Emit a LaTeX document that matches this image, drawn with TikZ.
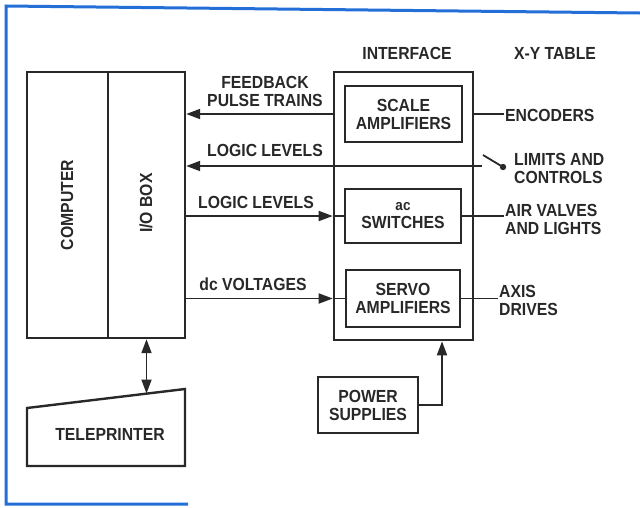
\documentclass[tikz,border=0pt]{standalone}
\usepackage{fontspec}
\setmainfont{Liberation Sans}[FakeStretch=0.9]
\usetikzlibrary{arrows.meta,calc}
\definecolor{frameblue}{RGB}{35,110,215}
\definecolor{ink}{RGB}{40,40,40}
\begin{document}
\begin{tikzpicture}[x=1pt,y=-1pt,
  every node/.style={font=\fontsize{17.5}{18}\selectfont\bfseries, text=ink},
  blk/.style={draw=ink, line width=2.4pt, rectangle, inner sep=0pt, align=center},
  lbl/.style={inner sep=1pt, align=center},
  lbll/.style={inner sep=1pt, align=left, anchor=west},
  conn/.style={draw=ink, line width=1.8pt},
  arr/.style={conn, -{Triangle[length=14pt,width=10pt]}},
  darr/.style={conn, {Triangle[length=14pt,width=10pt]}-{Triangle[length=14pt,width=10pt]}}]
\useasboundingbox (0,0) rectangle (640,507);
% frame
\draw[frameblue, line width=3pt] (188,504) -- (6,504) -- (6,6) -- (640,13);
% computer and I/O box
\node[blk, minimum width=81pt, minimum height=266pt] (comp) at (67.5,205) {};
\node[rotate=90] (compt) at (67,205) {COMPUTER};
\node[blk, minimum width=77pt, minimum height=266pt] (io) at (146.5,205) {};
\node[rotate=90] (iot) at (146,203) {I/O BOX};
% teleprinter
\draw[ink, line width=2.4pt] (27,408) -- (185,389) -- (185,466) -- (27,466) -- cycle;
\coordinate (ttop) at (146.5,393.5);
\node[lbl] (tele) at (110,434) {TELEPRINTER};
\draw[darr] (io.south) -- (ttop);
% interface
\node[blk, line width=2.6pt, minimum width=139pt, minimum height=268pt] (iface) at (403.5,206) {};
\node[lbl] (ifacet) at (407,53) {INTERFACE};
\node[lbl] (xyt) at (555,53) {X-Y TABLE};
\node[blk, minimum width=117pt, minimum height=56pt] (scale) at (403.5,114) {SCALE\\AMPLIFIERS};
\node[blk, minimum width=116pt, minimum height=54pt] (sw) at (403,216) {{\fontsize{15}{16}\selectfont ac}\\SWITCHES};
\node[blk, minimum width=114pt, minimum height=57pt] (servo) at (403,298.5) {SERVO\\AMPLIFIERS};
\node[blk, minimum width=100pt, minimum height=56pt] (power) at (368,405) {POWER\\SUPPLIES};
% left labels
\node[lbl] (fbt) at (265,91) {FEEDBACK\\PULSE TRAINS};
\node[lbl] (ll1) at (265,150) {LOGIC LEVELS};
\node[lbl] (ll2) at (256,202) {LOGIC LEVELS};
\node[lbl] (dct) at (253,284) {dc VOLTAGES};
% right labels
\node[lbll] (enc) at (504,115) {ENCODERS};
\node[lbll] (lim) at (513,168) {LIMITS AND\\CONTROLS};
\node[lbll] (air) at (504,219) {AIR VALVES\\AND LIGHTS};
\node[lbll] (axis) at (498,300) {AXIS\\DRIVES};
% connectors
\draw[arr] (scale.west -| iface.west) -- (scale.west -| io.east);
\coordinate (swl) at (482,166);
\draw[arr] (swl) -- (swl -| io.east);
\coordinate (swa) at (483,155);
\coordinate (swb) at (503,167);
\draw[conn] (swa) -- (swb);
\fill[ink] (swb) circle (3.2pt);
\draw[arr] (sw.west -| io.east) -- (sw.west -| iface.west);
\draw[conn] (sw.west -| iface.west) -- (sw.west);
\draw[arr] (servo.west -| io.east) -- (servo.west -| iface.west);
\draw[conn] (servo.west -| iface.west) -- (servo.west);
\draw[conn] (scale.east -| iface.east) -- (scale.east -| enc.west);
\draw[conn] (sw.east) -- (sw.east -| air.west);
\draw[conn] (servo.east) -- (servo.east -| axis.west);
\coordinate (pc) at (442,405);
\draw[arr] (power.east) -- (pc) -- (pc |- iface.south);
\end{tikzpicture}
\end{document}
